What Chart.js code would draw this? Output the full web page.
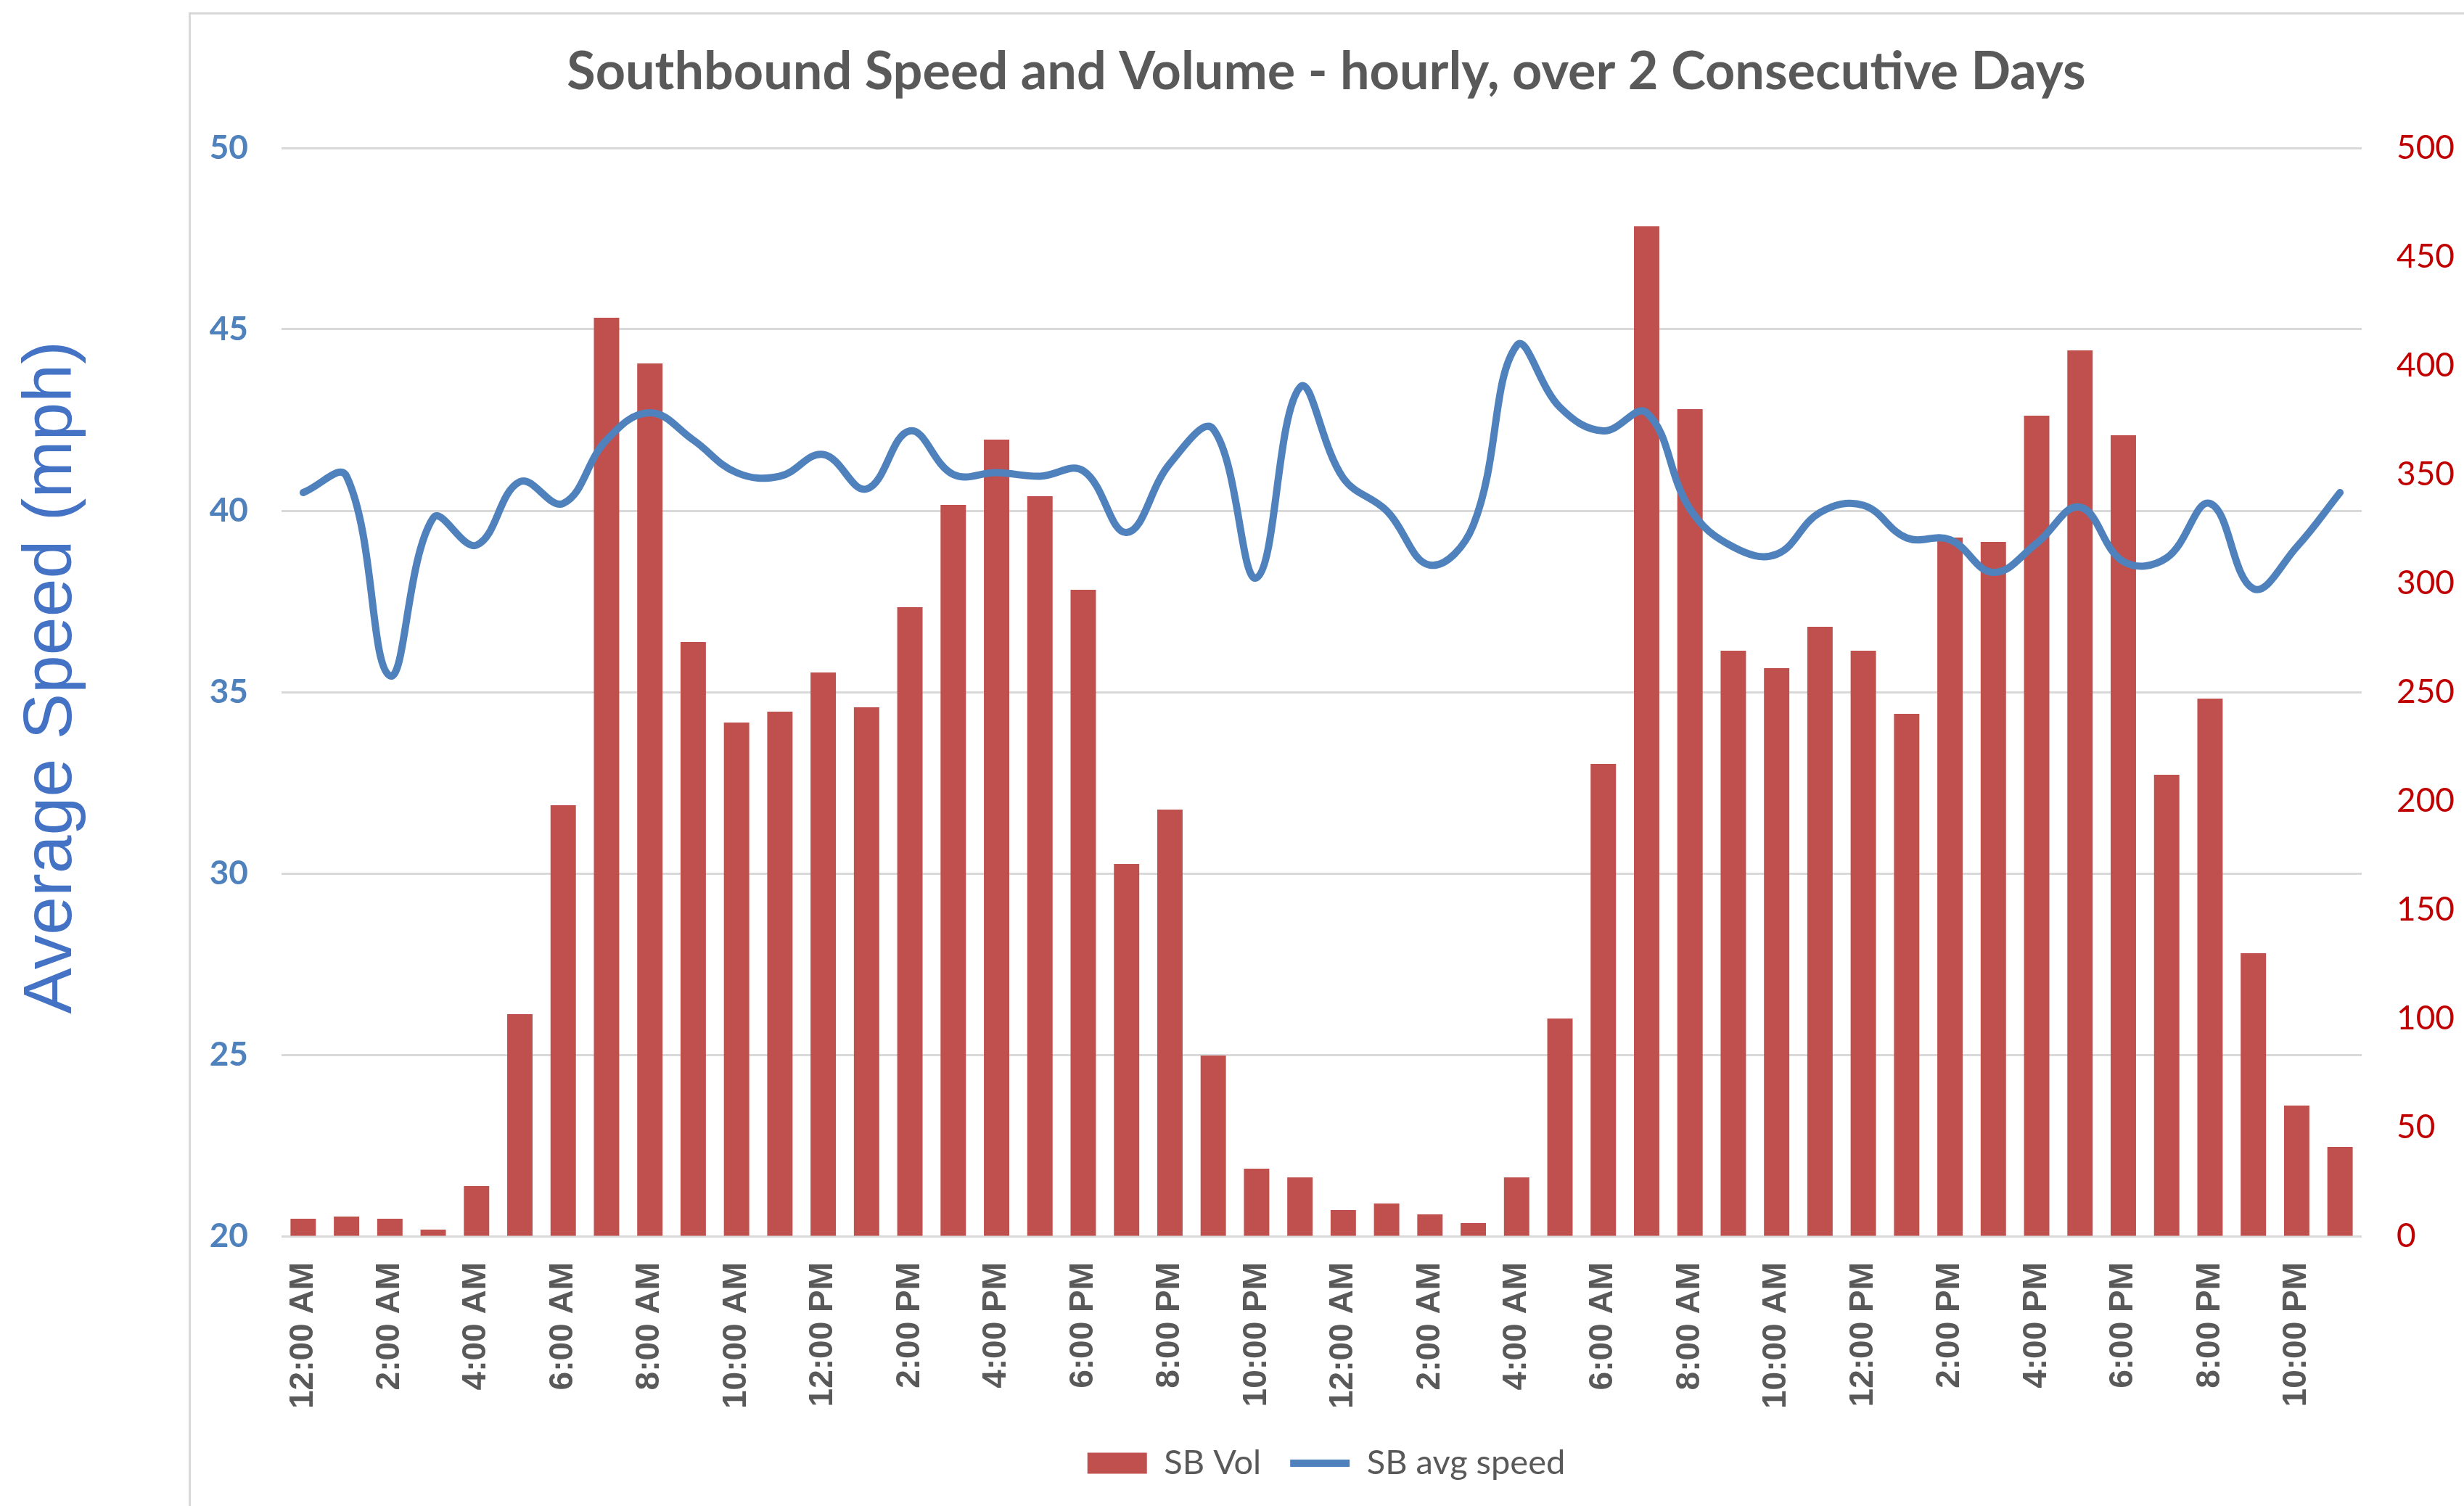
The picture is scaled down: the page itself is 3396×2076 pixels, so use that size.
<!DOCTYPE html>
<html>
<head>
<meta charset="utf-8">
<script src="https://cdn.jsdelivr.net/npm/chart.js@4.4.1/dist/chart.umd.min.js"></script>
<style>
  html, body { margin: 0; padding: 0; background: #ffffff; }
  canvas { display: block; }
</style>
</head>
<body>
<canvas id="c" width="3396" height="2076"></canvas>
<script>
// ---- data ----
const dayHours = ['12:00 AM','1:00 AM','2:00 AM','3:00 AM','4:00 AM','5:00 AM','6:00 AM','7:00 AM','8:00 AM','9:00 AM','10:00 AM','11:00 AM',
                  '12:00 PM','1:00 PM','2:00 PM','3:00 PM','4:00 PM','5:00 PM','6:00 PM','7:00 PM','8:00 PM','9:00 PM','10:00 PM','11:00 PM'];
const categories = dayHours.concat(dayHours);
const sbVol = [8, 9, 8, 3, 23, 102, 198, 422, 401, 273, 236, 241, 259, 243, 289, 336, 366, 340, 297, 171, 196, 83, 31, 27,
               12, 15, 10, 6, 27, 100, 217, 464, 380, 269, 261, 280, 269, 240, 321, 319, 377, 407, 368, 212, 247, 130, 60, 41];
const sbSpeed = [40.5, 40.95, 35.45, 39.8, 39.05, 40.8, 40.2, 41.95, 42.7, 41.95, 41.05, 40.95, 41.55, 40.6, 42.2, 41.0, 41.05, 40.95, 41.1, 39.4, 41.3, 42.25, 38.15, 43.4,
                 40.9, 40.0, 38.5, 39.6, 44.55, 42.85, 42.2, 42.7, 40.05, 39.0, 38.8, 39.95, 40.15, 39.25, 39.2, 38.3, 39.1, 40.1, 38.6, 38.7, 40.2, 37.85, 39.0, 40.5];
const speedTicks = { min: 20, max: 50, step: 5 };
const volTicks = { min: 0, max: 500, step: 50 };
const chartTitle = 'Southbound Speed and Volume - hourly, over 2 Consecutive Days';
const speedAxisTitle = 'Average Speed (mph)';
const seriesNames = ['SB Vol', 'SB avg speed'];

// ---- plugins ----
const frameAndAxisTitle = {
  id: 'frameAndAxisTitle',
  beforeDraw(chart) {
    const ctx = chart.ctx;
    ctx.save();
    ctx.fillStyle = '#ffffff';
    ctx.fillRect(0, 0, chart.width, chart.height);
    ctx.strokeStyle = '#d9d9d9';
    ctx.lineWidth = 3;
    ctx.beginPath();
    ctx.moveTo(261.5, chart.height);
    ctx.lineTo(261.5, 18.5);
    ctx.lineTo(chart.width, 18.5);
    ctx.stroke();
    ctx.restore();
  },
  afterDraw(chart) {
    const ctx = chart.ctx;
    const a = chart.chartArea;
    ctx.save();
    ctx.translate(98, (a.top + a.bottom) / 2 - 20);
    ctx.rotate(-Math.PI / 2);
    ctx.font = '95px "Liberation Sans", Arial, sans-serif';
    ctx.fillStyle = '#4472C4';
    ctx.textAlign = 'center';
    ctx.textBaseline = 'alphabetic';
    ctx.fillText(speedAxisTitle, 0, 0);
    ctx.restore();
  }
};

new Chart(document.getElementById('c'), {
  type: 'bar',
  data: {
    labels: categories,
    datasets: [
      {
        type: 'bar',
        label: seriesNames[0],
        data: sbVol,
        yAxisID: 'yVol',
        backgroundColor: '#C0504D',
        borderWidth: 0,
        barPercentage: 0.585,
        categoryPercentage: 1.0,
        pointStyle: 'rect',
        order: 1
      },
      {
        type: 'line',
        label: seriesNames[1],
        data: sbSpeed,
        yAxisID: 'ySpeed',
        borderColor: '#4F81BD',
        backgroundColor: '#4F81BD',
        borderWidth: 10,
        borderCapStyle: 'round',
        borderJoinStyle: 'round',
        pointRadius: 0,
        pointHoverRadius: 0,
        pointStyle: 'line',
        tension: 0.4,
        fill: false,
        order: 0
      }
    ]
  },
  options: {
    responsive: false,
    animation: false,
    devicePixelRatio: 1,
    layout: { padding: { left: 260, right: 0, top: 20, bottom: 25.5 } },
    plugins: {
      title: {
        display: true,
        text: chartTitle,
        color: '#595959',
        font: { family: 'Lato, "Open Sans", sans-serif', size: 72, weight: 'bold', lineHeight: 1.2 },
        padding: { top: 37, bottom: 60.6 }
      },
      legend: {
        position: 'bottom',
        labels: {
          usePointStyle: true,
          pointStyleWidth: 82,
          boxHeight: 29,
          padding: 40,
          color: '#595959',
          font: { family: 'Lato, "Open Sans", sans-serif', size: 47 },
          sort: (a, b) => a.datasetIndex - b.datasetIndex
        }
      },
      tooltip: { enabled: false }
    },
    scales: {
      x: {
        type: 'category',
        offset: true,
        grid: { display: false, drawTicks: false },
        border: { display: false },
        afterFit(scale) { scale.height = 249.5; },
        ticks: {
          autoSkip: false,
          minRotation: 90,
          maxRotation: 90,
          padding: 36,
          color: '#595959',
          font: { family: '"Liberation Sans", Arial, sans-serif', size: 46, weight: 'bold' },
          callback(value, index) { return index % 2 === 0 ? categories[index] : ''; }
        }
      },
      ySpeed: {
        position: 'left',
        min: speedTicks.min,
        max: speedTicks.max,
        afterFit(scale) { scale.width = 128; },
        grid: { color: '#d9d9d9', lineWidth: 3, drawTicks: false },
        border: { display: false },
        ticks: {
          stepSize: speedTicks.step,
          padding: 46,
          color: '#4F81BD',
          font: { family: 'Lato, "Open Sans", sans-serif', size: 46, weight: 'bold' }
        }
      },
      yVol: {
        position: 'right',
        min: volTicks.min,
        max: volTicks.max,
        afterFit(scale) { scale.width = 141; },
        grid: { drawOnChartArea: false, drawTicks: false },
        border: { display: false },
        ticks: {
          stepSize: volTicks.step,
          padding: 48,
          color: '#C00000',
          font: { family: 'Lato, "Open Sans", sans-serif', size: 46 }
        }
      }
    }
  },
  plugins: [frameAndAxisTitle]
});
</script>
</body>
</html>
